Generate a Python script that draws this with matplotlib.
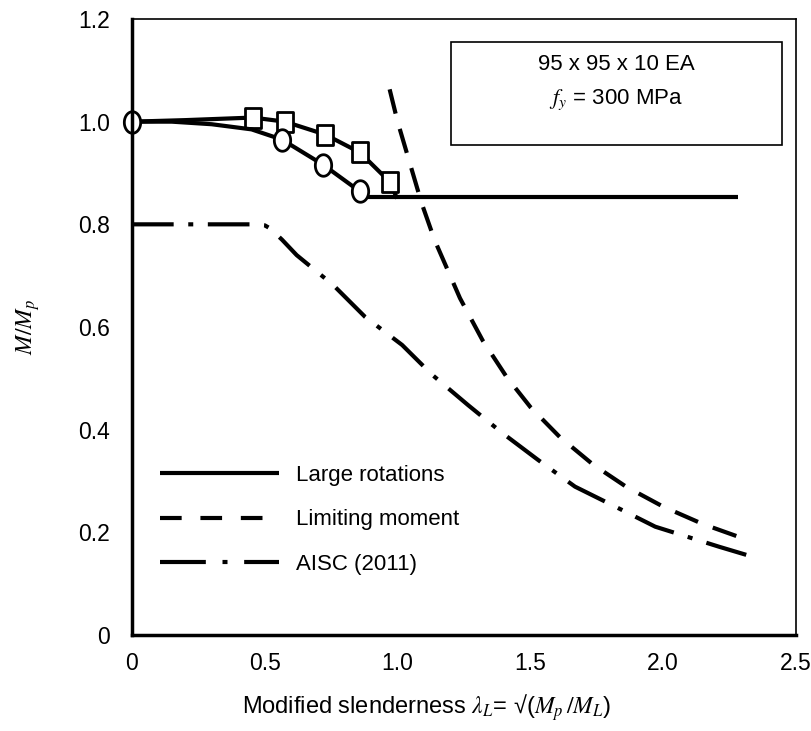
import matplotlib.pyplot as plt
from matplotlib.lines import Line2D
from matplotlib.path import Path
import numpy as np

plt.rcParams['font.family'] = ['Liberation Sans', 'DejaVu Sans']
plt.rcParams['mathtext.fontset'] = 'stix'

# large rotations, square markers (upper branch)
sq_x = [0.0, 0.2, 0.455, 0.576, 0.727, 0.858, 0.97, 0.995]
sq_y = [1.0, 1.003, 1.008, 1.0, 0.975, 0.94, 0.883, 0.854]
sq_mark = [2, 3, 4, 5, 6]

# large rotations, circle markers (lower branch)
ci_x = [0.0, 0.15, 0.3, 0.45, 0.565, 0.72, 0.858]
ci_y = [1.0, 1.0, 0.995, 0.985, 0.965, 0.916, 0.864]
ci_mark = [0, 4, 5, 6]

# plateau after local buckling
flat_x = [0.858, 2.28]
flat_y = [0.854, 0.854]

# limiting moment
lim_x = [0.97, 1.0, 1.09, 1.13, 1.148, 1.235, 1.32, 1.41, 1.50, 1.61, 1.736,
         1.86, 2.0, 2.15, 2.28, 2.32]
lim_y = [1.063, 1.0, 0.842, 0.783, 0.759, 0.656, 0.574, 0.503, 0.444, 0.386,
         0.332, 0.289, 0.250, 0.216, 0.192, 0.186]

# AISC (2011)
aisc_x = [0.0, 0.3, 0.45, 0.5, 0.52, 0.565, 0.62, 0.757, 0.877, 1.017, 1.13,
          1.265, 1.393, 1.529, 1.668, 1.82, 1.97, 2.13, 2.21, 2.32]
aisc_y = [0.8, 0.8, 0.8, 0.798, 0.792, 0.77, 0.74, 0.682, 0.62, 0.565, 0.507,
          0.448, 0.394, 0.341, 0.289, 0.25, 0.211, 0.185, 0.172, 0.155]

x_ticks = [0, 0.5, 1.0, 1.5, 2.0, 2.5]
x_labels = ['0', '0.5', '1.0', '1.5', '2.0', '2.5']
y_ticks = [0, 0.2, 0.4, 0.6, 0.8, 1.0, 1.2]
y_labels = ['0', '0.2', '0.4', '0.6', '0.8', '1.0', '1.2']

# tall markers (the original figure was stretched vertically)
t = np.linspace(0, 2 * np.pi, 60)
oval = Path(np.column_stack([0.76 * np.cos(t), np.sin(t)]), closed=True)
tall_box = Path([(-0.78, -1), (0.78, -1), (0.78, 1), (-0.78, 1), (-0.78, -1)],
                closed=True)

fig = plt.figure(figsize=(8.12, 7.31), dpi=100)
ax = fig.add_axes([132 / 812, 1 - 635 / 731, 664 / 812, 616 / 731])

lw = 3.0
ax.plot(flat_x, flat_y, '-', color='black', lw=lw, solid_capstyle='butt')
ax.plot(sq_x, sq_y, '-', color='black', lw=lw, marker=tall_box,
        markevery=sq_mark, ms=15, mfc='white', mec='black', mew=2.0)
ax.plot(ci_x, ci_y, '-', color='black', lw=lw, marker=oval, markevery=ci_mark,
        ms=15.5, mfc='white', mec='black', mew=2.0, clip_on=False)
ax.plot(lim_x, lim_y, color='black', lw=lw, dashes=(6, 3.8),
        dash_capstyle='butt')
ax.plot(aisc_x, aisc_y, color='black', lw=lw, dashes=(10, 3.5, 1.2, 3.5),
        dash_capstyle='butt')

ax.set_xlim(0, 2.5)
ax.set_ylim(0, 1.2)
ax.set_xticks(x_ticks)
ax.set_xticklabels(x_labels)
ax.set_yticks(y_ticks)
ax.set_yticklabels(y_labels)
ax.tick_params(length=0, labelsize=16.5)
ax.tick_params(axis='x', pad=12)
ax.tick_params(axis='y', pad=16)
for side in ['left', 'bottom']:
    ax.spines[side].set_linewidth(2.5)
for side in ['top', 'right']:
    ax.spines[side].set_linewidth(1.2)

ax.set_ylabel('$M/M_p$', fontsize=17, va='center')
ax.yaxis.set_label_coords((28 - 132) / 664, 0.5)
ax.set_xlabel('Modified slenderness $\\lambda_L$= \u221a($M_p\\,/M_L$)',
              fontsize=17, va='center')
ax.xaxis.set_label_coords((427 - 132) / 664, (635 - 708) / 616)

handles = [
    Line2D([], [], color='black', lw=lw, solid_capstyle='butt'),
    Line2D([], [], color='black', lw=lw, dashes=(5.2, 4.5), dash_capstyle='butt'),
    Line2D([], [], color='black', lw=lw, dashes=(11, 4, 1.2, 4),
           dash_capstyle='butt'),
]
fig.legend(handles, ['Large rotations', 'Limiting moment', 'AISC (2011)'],
           loc='center left', bbox_to_anchor=(160 / 812, 1 - 520 / 731),
           frameon=False, fontsize=16, handlelength=5.35, handletextpad=0.75,
           labelspacing=1.05, borderpad=0, borderaxespad=0)

fig.text(616 / 812, 1 - 65 / 731, '95 x 95 x 10 EA', ha='center', va='center',
         fontsize=16)
fig.text(616 / 812, 1 - 100 / 731, '$f_y$ = 300 MPa', ha='center', va='center',
         fontsize=16)
box = plt.Rectangle((451 / 812, 1 - 145 / 731), 331 / 812, 103 / 731,
                    transform=fig.transFigure, fill=False, lw=1.2, ec='black')
fig.patches.append(box)

fig.savefig('out.png', dpi=100)
